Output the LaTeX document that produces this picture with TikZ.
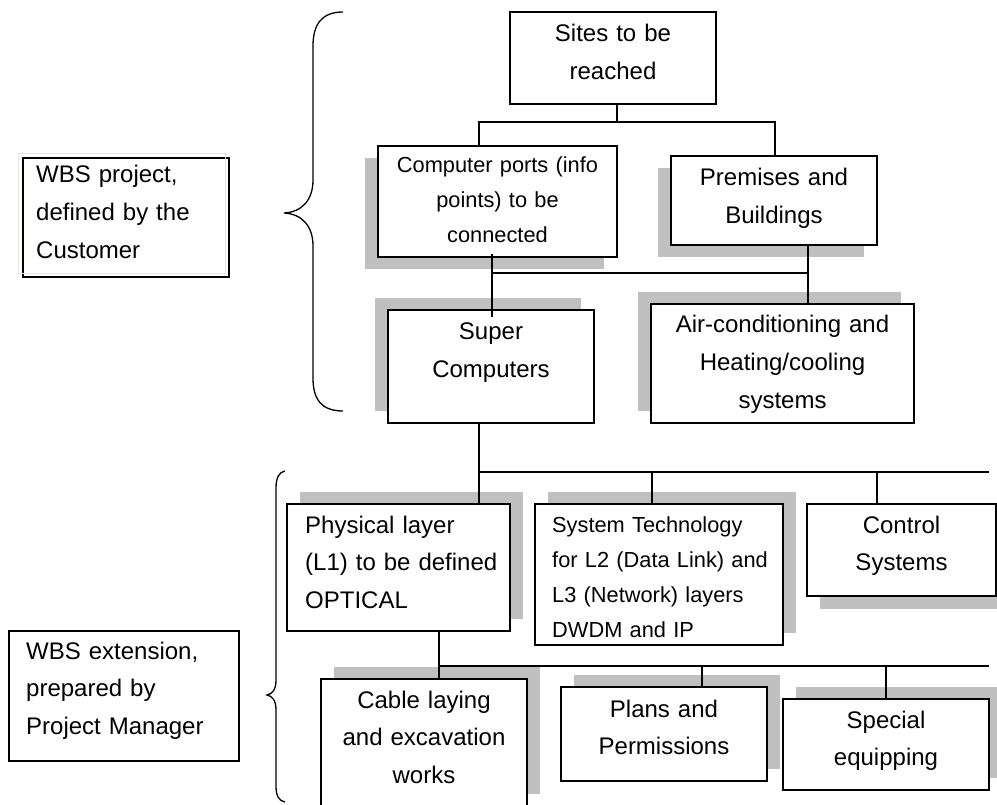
\documentclass[tikz,border=0pt]{standalone}
\usepackage{fontspec}
\setmainfont{Liberation Sans}
\usetikzlibrary{shadows,calc}
\definecolor{boxgray}{RGB}{192,192,192}
\definecolor{faintedge}{RGB}{232,228,216}

\tikzset{
  wbsbox/.style={draw=black, fill=white, line width=1.2pt, rectangle, inner sep=0pt},
  shadeDL/.style={general shadow={fill=boxgray, shadow xshift=-13pt, shadow yshift=-12pt}},
  shadeUL/.style={general shadow={fill=boxgray, shadow xshift=-13pt, shadow yshift=12pt}},
  shadeUR/.style={general shadow={fill=boxgray, shadow xshift=13pt, shadow yshift=12pt}},
  shadeDR/.style={general shadow={fill=boxgray, shadow xshift=13pt, shadow yshift=-13pt}},
  bigtxt/.style={inner sep=0pt, font=\fontsize{24}{37.6}\selectfont},
  smalltxt/.style={inner sep=0pt, font=\fontsize{21.8}{35}\selectfont},
  link/.style={draw=black, line width=1.2pt},
  brace/.style={draw=black, line width=1.3pt}
}

\begin{document}
\begin{tikzpicture}[x=1pt, y=-1pt]
\useasboundingbox (0,0) rectangle (997,805);

% ---- boxes of the project WBS ----
\node[wbsbox, minimum width=206pt, minimum height=92pt] (sites) at (613,58) {};
\node[wbsbox, shadeDL, minimum width=239pt, minimum height=111pt] (cp) at (497.5,201.5) {};
\node[wbsbox, shadeDL, minimum width=206pt, minimum height=89pt] (prem) at (774,200.5) {};
\node[wbsbox, shadeUL, minimum width=206pt, minimum height=113pt] (super) at (491,366.5) {};
\node[wbsbox, shadeUL, minimum width=263pt, minimum height=119pt] (air) at (782.5,363.5) {};

% ---- boxes of the extension ----
\node[wbsbox, shadeUR, minimum width=223pt, minimum height=127pt] (phys) at (398.5,567.5) {};
\node[wbsbox, shadeUR, minimum width=248pt, minimum height=141pt] (sys) at (659,574.5) {};
\node[wbsbox, shadeDR, minimum width=189pt, minimum height=92pt] (ctrl) at (901.5,550) {};
\node[wbsbox, shadeUR, minimum width=206pt, minimum height=127pt] (cable) at (424,742.5) {};
\node[wbsbox, shadeUR, minimum width=206pt, minimum height=94pt] (plans) at (664,734) {};
\node[wbsbox, shadeUR, minimum width=206pt, minimum height=91pt] (special) at (886,744.5) {};

% ---- side labels ----
\node[draw=black, line width=1.2pt, inner sep=0pt, minimum width=206pt, minimum height=119pt] (wbs1) at (126,217.5) {};
\draw[faintedge, line width=1pt] ($(wbs1.north west)+(-4,-4)$) rectangle ($(wbs1.south east)+(-4,-4)$);
\node[wbsbox, minimum width=230pt, minimum height=130pt] (wbs2) at (124,696) {};

% ---- texts ----
\node[bigtxt, anchor=base, text width=200pt, align=center] (sitesT) at (613,41.7) {Sites to be\\reached};
\node[smalltxt, anchor=base, text width=235pt, align=center] (cpT) at (497.5,173) {Computer ports (info\\points) to be\\connected};
\node[bigtxt, anchor=base, text width=200pt, align=center] (premT) at (774,185.7) {Premises and\\Buildings};
\node[bigtxt, anchor=base, text width=200pt, align=center] (superT) at (491,340) {Super\\Computers};
\node[bigtxt, anchor=base, text width=255pt, align=center] (airT) at (782.5,333) {Air-conditioning and\\Heating/cooling\\systems};
\node[bigtxt, anchor=base west, text width=205pt, align=left] (physT) at (305,533) {Physical layer\\(L1) to be defined\\OPTICAL};
\node[smalltxt, anchor=base west, text width=228pt, align=left] (sysT) at (552,532) {System Technology\\for L2 (Data Link) and\\L3 (Network) layers\\DWDM and IP};
\node[bigtxt, anchor=base, text width=185pt, align=center] (ctrlT) at (901.5,533) {Control\\Systems};
\node[bigtxt, anchor=base, text width=200pt, align=center] (cableT) at (424,708) {Cable laying\\and excavation\\works};
\node[bigtxt, anchor=base, text width=200pt, align=center] (plansT) at (664,717) {Plans and\\Permissions};
\node[bigtxt, anchor=base, text width=200pt, align=center] (specialT) at (886,728) {Special\\equipping};
\node[bigtxt, anchor=base west, text width=190pt, align=left] (wbs1T) at (36,183) {WBS project,\\defined by the\\Customer};
\node[bigtxt, anchor=base west, text width=210pt, align=left] (wbs2T) at (26,659) {WBS extension,\\prepared by\\Project Manager};

% ---- junction points of the connectors ----
\coordinate (t0) at (617,122);
\coordinate (b1l) at (479,122);
\coordinate (b1r) at (775,122);
\coordinate (b2l) at (492,273);
\coordinate (b2r) at (808,273);
\coordinate (b3l) at (479,472);
\coordinate (b3r) at (989,472);
\coordinate (t3a) at (652,472);
\coordinate (t3b) at (877,472);
\coordinate (b4l) at (439,666);
\coordinate (b4r) at (989,666);
\coordinate (t4a) at (702,666);
\coordinate (t4b) at (886,666);

% ---- connectors ----
\draw[link] (t0 |- sites.south) -- (t0);
\draw[link] (b1l |- cp.north) -- (b1l) -- (b1r) -- (b1r |- prem.north);
\draw[link] ($(b2l |- cp.south)+(0,-4)$) -- ($(b2l |- super.north)+(0,8)$);
\draw[link] (b2l) -- (b2r);
\draw[link] (b2r |- prem.south) -- (b2r |- air.north);
\draw[link] (b3l |- super.south) -- (b3l |- phys.north);
\draw[link] (b3l) -- (b3r);
\draw[link] (t3a) -- (t3a |- sys.north);
\draw[link] (t3b) -- (t3b |- ctrl.north);
\draw[link] (b4l |- phys.south) -- (b4l |- cable.north);
\draw[link] (b4l) -- (b4r);
\draw[link] (t4a) -- (t4a |- plans.north);
\draw[link] (t4b) -- (t4b |- special.north);

% ---- braces ----
\draw[brace] (343,12) .. controls (322,12) and (313,24) .. (313,46)
  -- (313,180) .. controls (313,200) and (302,212) .. (284,213)
  .. controls (302,214) and (313,226) .. (313,246)
  -- (313,378) .. controls (313,400) and (322,411) .. (343,411);
\draw[brace] (285,471) .. controls (279,472) and (276,478) .. (276,488)
  -- (276,680) .. controls (276,690) and (272,694) .. (267,695)
  .. controls (272,696) and (276,700) .. (276,710)
  -- (276,786) .. controls (276,796) and (279,801) .. (285,802);
\end{tikzpicture}
\end{document}
